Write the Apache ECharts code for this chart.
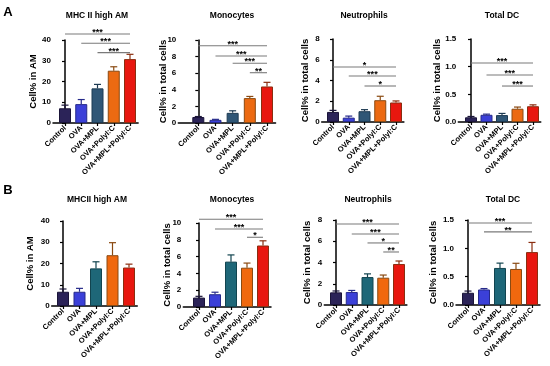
<!DOCTYPE html>
<html><head><meta charset="utf-8">
<script src="https://cdn.jsdelivr.net/npm/echarts@6/dist/echarts.min.js"></script>
<style>html,body{margin:0;padding:0;background:#fff}#c{width:550px;height:366px}</style>
</head><body><div id="c"></div>
<script>
// ---- data ----
const categories = ['Control', 'OVA', 'OVA+MPL', 'OVA+PolyI:C', 'OVA+MPL+PolyI:C'];
const panelTitles = ['MHC II high AM', 'Monocytes', 'Neutrophils', 'Total DC', 'MHCII high AM', 'Monocytes', 'Neutrophils', 'Total DC'];
const yNames = ['Cell% in AM', 'Cell% in total cells', 'Cell% in total cells', 'Cell% in total cells', 'Cell% in AM', 'Cell% in total cells', 'Cell% in total cells', 'Cell% in total cells'];
const yMax = [40, 10, 8, 1.5, 40, 10, 8, 1.5];
const yInterval = [10, 2, 2, 0.5, 10, 2, 2, 0.5];
const yDecimals = [0, 0, 0, 1, 0, 0, 0, 1];
const panelLetters = ['A', 'B'];

const a1Mean = [7.1, 9.1, 16.7, 25.2, 30.8];
const a1Err = [1.5, 2.2, 1.9, 1.9, 2.3];
const a2Mean = [0.72, 0.38, 1.22, 3.0, 4.4];
const a2Err = [0.06, 0.06, 0.25, 0.2, 0.5];
const a3Mean = [0.97, 0.42, 1.04, 2.1, 1.88];
const a3Err = [0.15, 0.15, 0.15, 0.38, 0.15];
const a4Mean = [0.085, 0.13, 0.125, 0.24, 0.285];
const a4Err = [0.015, 0.012, 0.03, 0.03, 0.025];
const b1Mean = [6.7, 6.7, 17.7, 23.9, 18.1];
const b1Err = [1.3, 1.6, 3.1, 5.9, 1.6];
const b2Mean = [1.12, 1.52, 5.4, 4.68, 7.32];
const b2Err = [0.15, 0.24, 0.8, 0.55, 0.56];
const b3Mean = [1.19, 1.22, 2.63, 2.57, 3.86];
const b3Err = [0.13, 0.15, 0.3, 0.25, 0.28];
const b4Mean = [0.216, 0.274, 0.654, 0.636, 0.934];
const b4Err = [0.03, 0.016, 0.085, 0.1, 0.17];

// significance brackets: [fromIndex, toIndex, yValue]
const a1Sig = [[0, 4, 42.9], [1, 4, 38.4], [2, 4, 33.9]];
const a1SigText = ['***', '***', '***'];
const a2Sig = [[0, 4, 9.3], [1, 4, 8.07], [2, 4, 7.19], [3, 4, 6.06]];
const a2SigText = ['***', '***', '***', '**'];
const a3Sig = [[0, 4, 5.3], [1, 4, 4.43], [2, 4, 3.47]];
const a3SigText = ['*', '***', '*'];
const a4Sig = [[0, 4, 1.067], [1, 4, 0.85], [2, 4, 0.65]];
const a4SigText = ['***', '***', '***'];
const b1Sig = [];
const b1SigText = [];
const b2Sig = [[0, 4, 10.44], [1, 4, 9.29], [3, 4, 8.3]];
const b2SigText = ['***', '***', '*'];
const b3Sig = [[0, 4, 7.62], [1, 4, 6.68], [2, 4, 5.84], [3, 4, 4.99]];
const b3SigText = ['***', '***', '*', '**'];
const b4Sig = [[0, 4, 1.447], [1, 4, 1.29]];
const b4SigText = ['***', '**'];

const means = [a1Mean, a2Mean, a3Mean, a4Mean, b1Mean, b2Mean, b3Mean, b4Mean];
const errs = [a1Err, a2Err, a3Err, a4Err, b1Err, b2Err, b3Err, b4Err];
const sigs = [a1Sig, a2Sig, a3Sig, a4Sig, b1Sig, b2Sig, b3Sig, b4Sig];
const sigTexts = [a1SigText, a2SigText, a3SigText, a4SigText, b1SigText, b2SigText, b3SigText, b4SigText];

// ---- styles / layout ----
const colorsA = ['#2b2358', '#3b40d8', '#2f5676', '#ec6a12', '#e8170f'];
const colorsB = ['#2b2358', '#3b40d8', '#1e6778', '#f0680e', '#e8170f'];
const bordersA = ['#1a1438', '#262a8a', '#1d3a52', '#8a4a12', '#8a2e10'];
const bordersB = ['#1a1438', '#262a8a', '#12444f', '#8a4a12', '#8a2e10'];
// axisX: y-axis line position, first/last: first and last bar centre (px)
const layout = [
  {axisX: 53, first: 65, last: 130, top: 40, height: 83, nameGap: 15},
  {axisX: 178.3, first: 198.3, last: 267, top: 40, height: 83, nameGap: 10},
  {axisX: 321.7, first: 333, last: 396, top: 39, height: 83, nameGap: 11.5},
  {axisX: 458.3, first: 471, last: 533, top: 39, height: 83, nameGap: 16},
  {axisX: 51.7, first: 63, last: 129, top: 221, height: 85, nameGap: 16.5},
  {axisX: 183.3, first: 199, last: 263, top: 223, height: 84, nameGap: 11},
  {axisX: 324.3, first: 336, last: 399, top: 220, height: 85, nameGap: 11.5},
  {axisX: 456, first: 468, last: 532, top: 220, height: 85, nameGap: 17.5}
];
const titlePos = [[97, 16], [232, 16], [364, 16], [502, 16], [97, 200], [232, 200], [368, 200], [503, 200]];
const letterPos = [[8, 12], [8, 190]];
const FF = '"Liberation Sans", Arial, sans-serif';
const catIdx = categories.map((c, i) => i);

const grids = [], xAxes = [], yAxes = [], series = [], graphics = [];
for (let p = 0; p < 8; p++) {
  const L = layout[p];
  const fills = p < 4 ? colorsA : colorsB;
  const borders = p < 4 ? bordersA : bordersB;
  const step = (L.last - L.first) / 4;
  const right = L.last + step / 2;
  const xmin = -(L.first - L.axisX) / step;
  const xmax = 4.5;
  grids.push({left: L.axisX, top: L.top, width: right - L.axisX, height: L.height, containLabel: false, outerBoundsMode: 'none'});
  xAxes.push({
    type: 'value', gridIndex: p, min: xmin, max: xmax,
    splitLine: {show: false},
    axisLine: {show: true, lineStyle: {color: '#000', width: 1.5}},
    axisTick: {show: true, customValues: catIdx, length: 3, lineStyle: {color: '#000', width: 1.2}},
    axisLabel: {show: true, customValues: catIdx, formatter: v => categories[Math.round(v)],
      rotate: 45, margin: 4, color: '#000', fontWeight: 'bold', fontSize: 7.5, fontFamily: FF}
  });
  const dec = yDecimals[p];
  yAxes.push({
    type: 'value', gridIndex: p, min: 0, max: yMax[p], interval: yInterval[p],
    name: yNames[p], nameLocation: 'middle', nameGap: L.nameGap, nameRotate: 90, nameMoveOverlap: false,
    nameTextStyle: {color: '#000', fontWeight: 'bold', fontSize: 9.5, fontFamily: FF},
    axisLine: {show: true, lineStyle: {color: '#000', width: 1.5}},
    axisTick: {show: true, length: 3, lineStyle: {color: '#000', width: 1.2}},
    splitLine: {show: false},
    axisLabel: {margin: 2, color: '#000', fontWeight: 'bold', fontSize: 8, fontFamily: FF,
      formatter: v => v.toFixed(dec)}
  });
  series.push({
    type: 'bar', xAxisIndex: p, yAxisIndex: p, barWidth: 12, z: 2,
    data: means[p].map((v, i) => ({value: [i, v], itemStyle: {color: fills[i], borderColor: borders[i], borderWidth: 1}}))
  });
  const errData = means[p].map((v, i) => [i, v, errs[p][i]]);
  series.push({
    type: 'custom', xAxisIndex: p, yAxisIndex: p, z: 3, clip: false,
    encode: {x: 0, y: 1},
    data: errData,
    renderItem: (params, api) => {
      const i = api.value(0), m = api.value(1), e = api.value(2);
      const p0 = api.coord([i, m]), p1 = api.coord([i, m + e]);
      const c = borders[i];
      return {type: 'group', children: [
        {type: 'line', shape: {x1: p0[0], y1: p0[1], x2: p1[0], y2: p1[1]}, style: {stroke: c, lineWidth: 1.2}},
        {type: 'line', shape: {x1: p1[0] - 3.5, y1: p1[1], x2: p1[0] + 3.5, y2: p1[1]}, style: {stroke: c, lineWidth: 1.2}}
      ]};
    }
  });
  if (sigs[p].length) {
    const texts = sigTexts[p];
    series.push({
      type: 'custom', xAxisIndex: p, yAxisIndex: p, z: 4, clip: false,
      encode: {x: [0, 1], y: 2},
      data: sigs[p],
      renderItem: (params, api) => {
        const a = api.value(0), b = api.value(1), y = api.value(2);
        const s = api.coord([a, y]), e = api.coord([b, y]);
        return {type: 'group', children: [
          {type: 'line', shape: {x1: s[0], y1: s[1], x2: e[0], y2: e[1]}, style: {stroke: '#7a7a7a', lineWidth: 1.1}},
          {type: 'text', x: (s[0] + e[0]) / 2, y: s[1] + 3, style: {text: texts[params.dataIndex], align: 'center', verticalAlign: 'bottom', fill: '#000', font: 'bold 9px ' + FF}}
        ]};
      }
    });
  }
  graphics.push({type: 'text', x: titlePos[p][0], y: titlePos[p][1], style: {text: panelTitles[p], align: 'center', verticalAlign: 'middle', fill: '#000', font: 'bold 8.5px ' + FF}});
}
for (let k = 0; k < 2; k++) {
  graphics.push({type: 'text', x: letterPos[k][0], y: letterPos[k][1], style: {text: panelLetters[k], align: 'center', verticalAlign: 'middle', fill: '#000', font: 'bold 13px ' + FF}});
}

const chart = echarts.init(document.getElementById('c'), null, {renderer: 'canvas'});
chart.setOption({
  animation: false,
  backgroundColor: '#fff',
  grid: grids, xAxis: xAxes, yAxis: yAxes, series: series, graphic: graphics
});
</script>
</body></html>
